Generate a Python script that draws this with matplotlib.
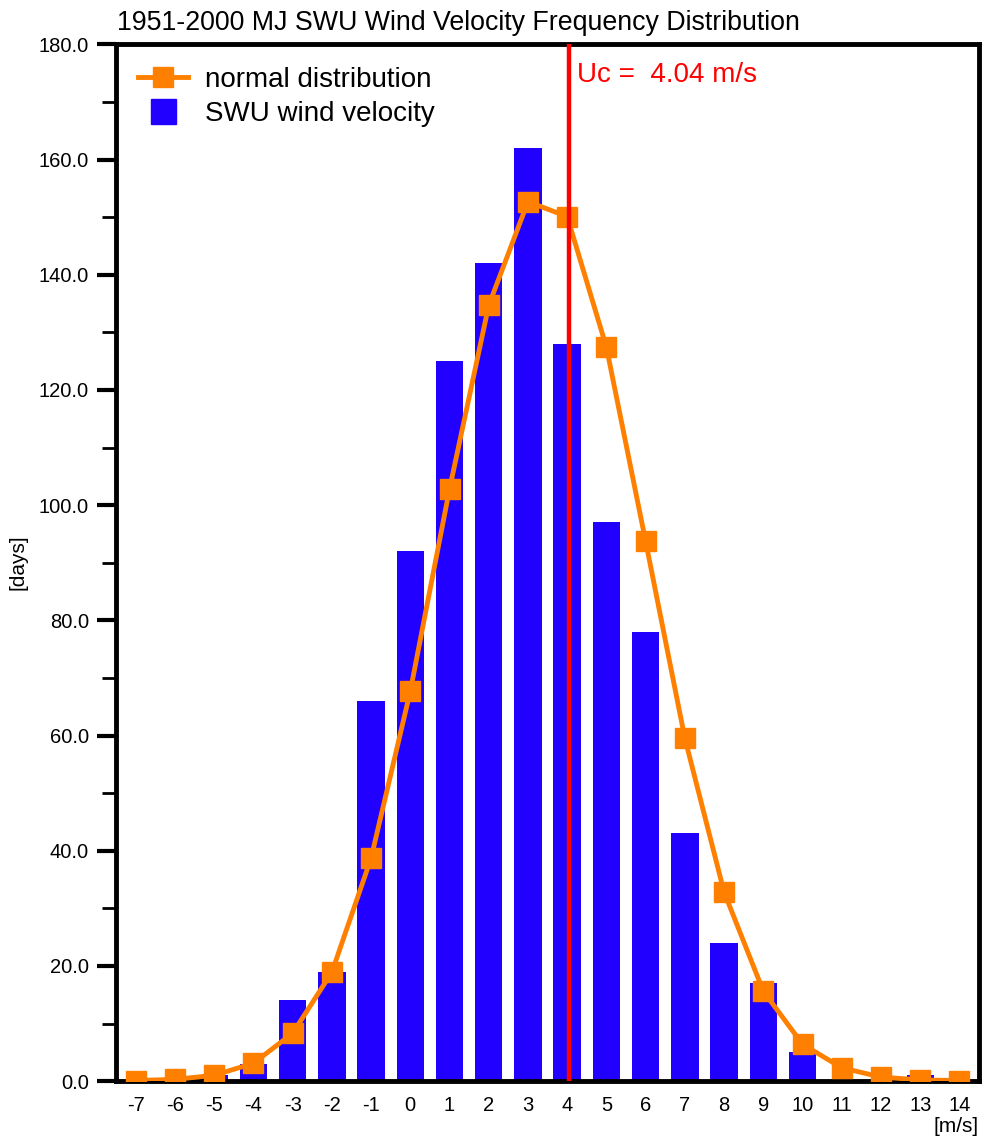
import matplotlib
matplotlib.use("Agg")
import matplotlib.pyplot as plt
from matplotlib.ticker import MultipleLocator, FixedLocator, FormatStrFormatter
from matplotlib.lines import Line2D
import numpy as np

plt.rcParams['font.family'] = ['Liberation Sans', 'DejaVu Sans']

wind_bins = [-7, -6, -5, -4, -3, -2, -1, 0, 1, 2, 3, 4, 5, 6, 7, 8, 9, 10, 11, 12, 13, 14]
swu_days = [0, 0, 1, 3, 14, 19, 66, 92, 125, 142, 162, 128, 97, 78, 43, 24, 17, 5, 0, 0, 1, 0]
normal_days = [0.1, 0.3, 1.0, 3.1, 8.3, 18.9, 38.7, 67.7, 102.8, 134.7, 152.7, 150.1,
               127.4, 93.7, 59.5, 32.8, 15.6, 6.4, 2.3, 0.7, 0.2, 0.1]
uc_value = 4.04
title = "1951-2000 MJ SWU Wind Velocity Frequency Distribution"

bar_color = '#2200ff'
line_color = '#ff8000'

fig = plt.figure(figsize=(9.84, 11.38), dpi=100)
ax = fig.add_axes([0.118, 0.050, 0.877, 0.911])

ax.bar(wind_bins, swu_days, width=0.7, color=bar_color, zorder=2)
ax.plot(wind_bins, normal_days, color=line_color, lw=3.5, marker='s', markersize=15, zorder=3)
ax.axvline(uc_value, color='#ff0000', lw=3.2, zorder=4)
ax.text(uc_value + 0.2, 174.6, "Uc =  %.2f m/s" % uc_value, color='#ff0000',
        fontsize=20, va='center', ha='left', zorder=5)

ax.set_xlim(-7.5, 14.5)
ax.set_ylim(0, 180)
ax.xaxis.set_major_locator(FixedLocator(wind_bins))
ax.set_xticklabels([str(v) for v in wind_bins])
ax.yaxis.set_major_locator(MultipleLocator(20))
ax.yaxis.set_minor_locator(MultipleLocator(10))
ax.yaxis.set_major_formatter(FormatStrFormatter('%.1f'))

ax.tick_params(axis='x', length=0, labelsize=14.5, pad=11)
ax.tick_params(axis='y', which='major', length=13.5, width=3, direction='out', labelsize=14.5, pad=6)
ax.tick_params(axis='y', which='minor', length=10, width=2, direction='out')
for s in ax.spines.values():
    s.set_linewidth(3.5)

fig.text(18 / 984, 1 - 562 / 1138, '[days]', rotation=90, fontsize=15, ha='center', va='center')
ax.text(1.0, -0.035, '[m/s]', transform=ax.transAxes, ha='right', va='top', fontsize=15)
fig.text(0.119, 0.968, title, fontsize=19.3, ha='left', va='bottom')

h_line = Line2D([], [], color=line_color, lw=3.5, marker='s', markersize=15)
h_bar = Line2D([], [], color=bar_color, lw=0, marker='s', markersize=18)
leg = ax.legend([h_line, h_bar], ['normal distribution', 'SWU wind velocity'],
                loc='upper left', frameon=False, fontsize=20, handlelength=1.8,
                handletextpad=0.6, borderaxespad=0.4, labelspacing=0.3,
                bbox_to_anchor=(0.0, 1.0))

fig.savefig('out.png', dpi=100)
